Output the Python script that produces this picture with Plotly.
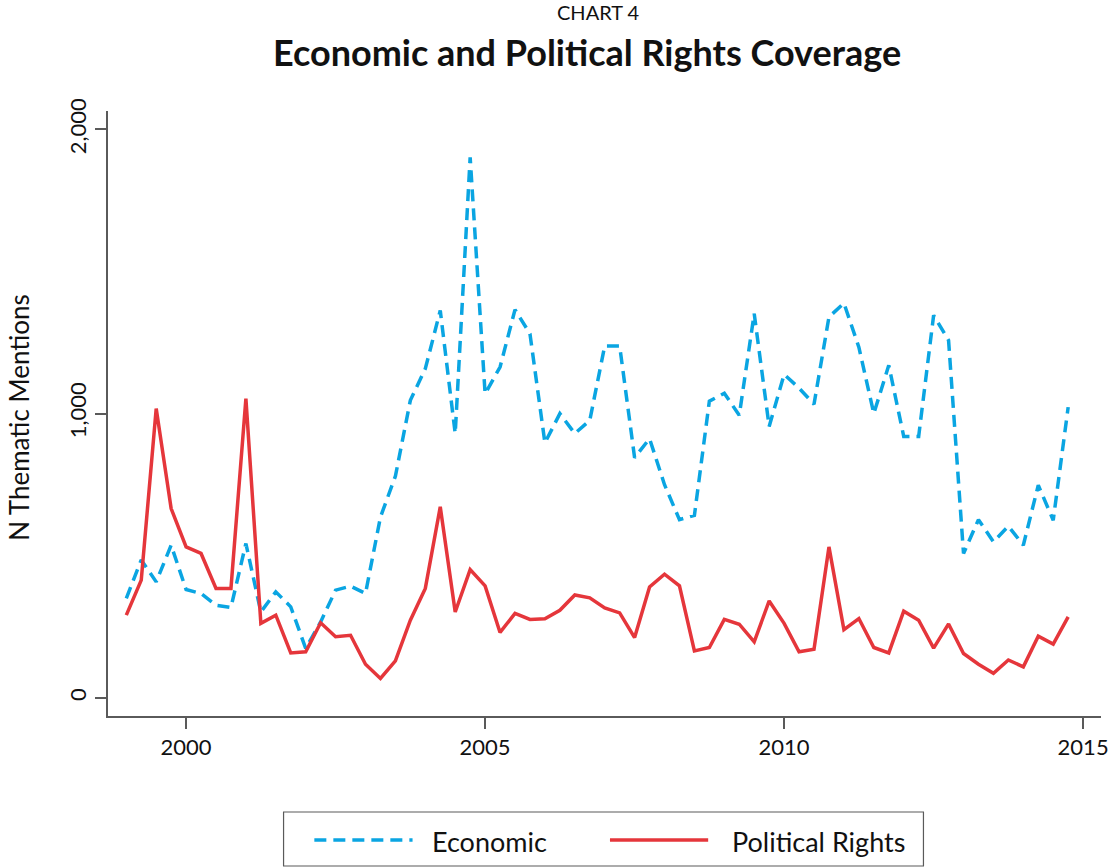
"""Chart 4: cobertura de derechos económicos y políticos (trimestral, 1999-2014)."""
import plotly.graph_objects as go

# Trimestres: 1999 T1 ... 2014 T4, como año decimal
quarters = [1999 + k / 4 for k in range(64)]

# Menciones temáticas
economic = [
    350, 485, 408, 537, 381, 367, 326, 318,
    543, 302, 373, 320, 174, 267, 379, 393,
    367, 636, 780, 1047, 1158, 1363, 930, 1902,
    1070, 1164, 1366, 1281, 897, 1000, 930, 976,
    1238, 1238, 845, 912, 750, 627, 642, 1044,
    1072, 994, 1352, 955, 1138, 1090, 1033, 1340,
    1389, 1234, 1000, 1170, 920, 920, 1346, 1258,
    508, 627, 549, 604, 537, 748, 625, 1023,
]
political = [
    291, 414, 1018, 666, 531, 508, 385, 385,
    1053, 262, 291, 158, 162, 264, 215, 220,
    118, 68, 130, 273, 385, 672, 302, 451,
    394, 230, 297, 276, 278, 308, 362, 352,
    316, 299, 212, 390, 435, 394, 165, 177,
    276, 259, 197, 341, 262, 162, 171, 531,
    240, 279, 177, 158, 305, 273, 175, 260,
    156, 118, 86, 133, 109, 217, 189, 285,
]

series_names = ["Economic", "Political Rights"]
x_ticks = [2000, 2005, 2010, 2015]
y_ticks = [0, 1000, 2000]
y_ticktext = ["0", "1,000", "2,000"]

BLUE = "#0aa5e2"
RED = "#e5363b"
AXIS = "#5a5a5a"
INK = "#111111"
FONT = "Lato"

fig = go.Figure()
fig.add_trace(go.Scatter(
    x=quarters, y=economic, mode="lines", name=series_names[0],
    line=dict(color=BLUE, width=3.5, dash="12px,7px"),
))
fig.add_trace(go.Scatter(
    x=quarters, y=political, mode="lines", name=series_names[1],
    line=dict(color=RED, width=3.5),
))

axis_common = dict(
    showgrid=False, zeroline=False, showline=True, linecolor=AXIS,
    linewidth=1.5, ticks="outside", ticklen=11, tickwidth=1.5,
    tickcolor=AXIS, tickfont=dict(family=FONT, size=22, color=INK),
)
fig.update_xaxes(range=[1998.694, 2015.299], tickvals=x_ticks, **axis_common)
fig.update_yaxes(range=[-64, 2065], tickvals=y_ticks, ticktext=y_ticktext,
                 tickangle=-90, **axis_common)

# Leyenda dibujada a mano: caja con muestras de línea largas
LEG_Y = -0.205
shapes = [
    dict(type="rect", xref="paper", yref="paper", x0=0.1768, x1=0.8212,
         y0=-0.2479, y1=-0.1587, line=dict(color=AXIS, width=1.2)),
    dict(type="line", xref="paper", yref="paper", x0=0.2078, x1=0.3067,
         y0=LEG_Y, y1=LEG_Y, line=dict(color=BLUE, width=3.5, dash="12px,7px")),
    dict(type="line", xref="paper", yref="paper", x0=0.5055, x1=0.6044,
         y0=LEG_Y, y1=LEG_Y, line=dict(color=RED, width=3.5)),
]
annotations = [
    dict(text="CHART 4", xref="paper", yref="paper", x=0.4935, y=1.1636,
         xanchor="center", yanchor="middle", showarrow=False,
         font=dict(family=FONT, size=20, color=INK)),
    dict(text="<b>Economic and Political Rights Coverage</b>", xref="paper",
         yref="paper", x=0.4825, y=1.0975, xanchor="center", yanchor="middle",
         showarrow=False, font=dict(family=FONT, size=36, color=INK)),
    dict(text="N Thematic Mentions", xref="paper", yref="paper", x=-0.0899,
         y=0.494, xanchor="center", yanchor="middle", textangle=-90,
         showarrow=False, font=dict(family=FONT, size=26, color=INK)),
    dict(text=series_names[0], xref="paper", yref="paper", x=0.3244, y=LEG_Y - 0.003,
         xanchor="left", yanchor="middle", showarrow=False,
         font=dict(family=FONT, size=27, color=INK)),
    dict(text=series_names[1], xref="paper", yref="paper", x=0.6264, y=LEG_Y - 0.003,
         xanchor="left", yanchor="middle", showarrow=False,
         font=dict(family=FONT, size=27, color=INK)),
]

fig.update_layout(
    width=1117, height=868,
    margin=dict(l=108, r=8, t=111, b=152),
    plot_bgcolor="white", paper_bgcolor="white",
    showlegend=False, shapes=shapes, annotations=annotations,
    font=dict(family=FONT),
)
# Sin el margen por defecto del <body>, la figura ocupa justo la ventana
fig.write_html(
    "out.html",
    config={"displayModeBar": False},
    post_script="document.body.style.margin='0';document.body.style.overflow='hidden';",
)
